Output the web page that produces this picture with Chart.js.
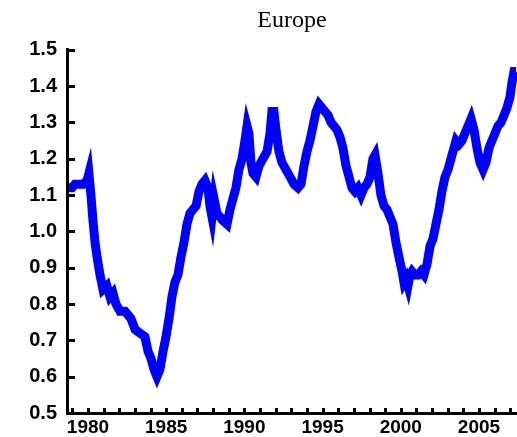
<!DOCTYPE html>
<html>
<head>
<meta charset="utf-8">
<script src="https://cdn.jsdelivr.net/npm/chart.js@4.4.0/dist/chart.umd.min.js"></script>
<style>
  body { margin: 0; background: #fff; }
  #wrap { width: 517px; height: 437px; }
</style>
</head>
<body>
<div id="wrap"><canvas id="europe-chart" width="517" height="437"></canvas></div>
<script>
// values (year, rate)
const years = [
  1978.79, 1978.98, 1979.17, 1979.36, 1979.68, 1979.94, 1980.06, 1980.19, 1980.32, 1980.45,
  1980.58, 1980.77, 1980.96, 1981.21, 1981.41, 1981.60, 1981.79, 1982.05, 1982.37, 1982.56,
  1982.75, 1983.01, 1983.32, 1983.64, 1983.84, 1984.03, 1984.22, 1984.41, 1984.60, 1984.80,
  1984.99, 1985.18, 1985.37, 1985.56, 1985.75, 1985.95, 1986.14, 1986.33, 1986.52, 1986.71,
  1986.91, 1987.10, 1987.29, 1987.48, 1987.67, 1987.80, 1987.93, 1988.06, 1988.25, 1988.44,
  1988.63, 1988.89, 1989.08, 1989.27, 1989.46, 1989.65, 1989.85, 1990.04, 1990.17, 1990.29,
  1990.42, 1990.55, 1990.74, 1990.93, 1991.19, 1991.45, 1991.64, 1991.76, 1991.89, 1992.02,
  1992.21, 1992.40, 1992.66, 1992.92, 1993.17, 1993.43, 1993.62, 1993.81, 1994.00, 1994.19,
  1994.39, 1994.58, 1994.77, 1994.96, 1995.15, 1995.35, 1995.54, 1995.73, 1995.92, 1996.11,
  1996.30, 1996.50, 1996.69, 1996.88, 1997.07, 1997.26, 1997.46, 1997.65, 1997.84, 1998.03,
  1998.22, 1998.35, 1998.54, 1998.73, 1998.93, 1999.12, 1999.31, 1999.50, 1999.69, 1999.88,
  2000.08, 2000.20, 2000.33, 2000.46, 2000.59, 2000.72, 2000.91, 2001.10, 2001.29, 2001.48,
  2001.68, 2001.87, 2002.06, 2002.25, 2002.44, 2002.63, 2002.83, 2003.02, 2003.21, 2003.40,
  2003.53, 2003.72, 2003.91, 2004.10, 2004.30, 2004.49, 2004.68, 2004.87, 2005.06, 2005.26,
  2005.45, 2005.64, 2005.83, 2006.02, 2006.21, 2006.41, 2006.60, 2006.79, 2006.98, 2007.11,
  2007.24, 2007.37
];
const rate = [
  1.12, 1.12, 1.13, 1.13, 1.13, 1.14, 1.16, 1.10, 1.03, 0.97,
  0.93, 0.88, 0.84, 0.85, 0.82, 0.83, 0.80, 0.78, 0.78, 0.77,
  0.76, 0.73, 0.72, 0.71, 0.67, 0.65, 0.62, 0.60, 0.62, 0.67,
  0.71, 0.76, 0.82, 0.86, 0.88, 0.93, 0.97, 1.02, 1.05, 1.06,
  1.07, 1.11, 1.13, 1.14, 1.12, 1.07, 1.04, 1.09, 1.05, 1.04,
  1.03, 1.02, 1.06, 1.09, 1.12, 1.17, 1.20, 1.25, 1.29, 1.27,
  1.19, 1.16, 1.15, 1.18, 1.20, 1.22, 1.27, 1.33, 1.33, 1.28,
  1.22, 1.19, 1.17, 1.15, 1.13, 1.12, 1.13, 1.18, 1.22, 1.25,
  1.29, 1.33, 1.35, 1.34, 1.33, 1.32, 1.30, 1.29, 1.28, 1.26,
  1.23, 1.18, 1.15, 1.12, 1.11, 1.12, 1.10, 1.12, 1.13, 1.15,
  1.20, 1.21, 1.16, 1.10, 1.07, 1.06, 1.04, 1.02, 0.97, 0.93,
  0.89, 0.86, 0.87, 0.85, 0.88, 0.89, 0.88, 0.88, 0.89, 0.88,
  0.91, 0.96, 0.98, 1.02, 1.06, 1.11, 1.15, 1.17, 1.20, 1.23,
  1.25, 1.24, 1.25, 1.27, 1.29, 1.31, 1.28, 1.23, 1.19, 1.17,
  1.19, 1.23, 1.25, 1.27, 1.29, 1.30, 1.32, 1.34, 1.37, 1.41,
  1.44, 1.44
];
const labeledYears = [1980, 1985, 1990, 1995, 2000, 2005];
const yMin = 0.5;
const yMax = 1.5;

const points = years.map((yr, i) => ({ x: yr, y: rate[i] }));

// tick marks point into the plot, as in the original
const innerTicks = {
  id: 'innerTicks',
  afterDraw(chart) {
    const { ctx, chartArea, scales } = chart;
    ctx.save();
    ctx.strokeStyle = '#000';
    ctx.lineWidth = 3;
    ctx.beginPath();
    scales.y.ticks.forEach(t => {
      const py = Math.round(scales.y.getPixelForValue(t.value)) + 0.5;
      ctx.moveTo(chartArea.left, py);
      ctx.lineTo(chartArea.left + 8, py);
    });
    scales.x.ticks.forEach(t => {
      if (!Number.isInteger(t.value)) return;
      const px = Math.round(scales.x.getPixelForValue(t.value)) + 0.5;
      ctx.moveTo(px, chartArea.bottom);
      ctx.lineTo(px, chartArea.bottom - 5);
    });
    ctx.stroke();
    ctx.restore();
  }
};

new Chart(document.getElementById('europe-chart').getContext('2d'), {
  type: 'line',
  data: {
    datasets: [{
      data: points,
      borderColor: '#0000ff',
      borderWidth: 9,
      pointRadius: 0,
      tension: 0,
      fill: false
    }]
  },
  options: {
    responsive: false,
    animation: false,
    layout: { padding: 0 },
    plugins: {
      legend: { display: false },
      tooltip: { enabled: false },
      title: {
        display: true,
        text: 'Europe',
        fullSize: false,
        color: '#000',
        font: { family: 'Liberation Serif', size: 24, weight: 'normal' },
        padding: { top: 6, bottom: 15 }
      }
    },
    scales: {
      x: {
        type: 'linear',
        min: 1978.66,
        max: 2007.43,
        grid: { display: false, drawTicks: false, tickLength: 0 },
        border: { display: true, color: '#000', width: 3 },
        afterFit: scale => { scale.height = 24; },
        ticks: {
          stepSize: 1,
          autoSkip: false,
          includeBounds: false,
          maxRotation: 0,
          padding: 3,
          color: '#000',
          font: { family: 'Liberation Sans', size: 19, weight: 'bold' },
          callback: v => labeledYears.includes(v) ? String(v) : ''
        }
      },
      y: {
        min: yMin,
        max: yMax,
        grid: { display: false, drawTicks: false, tickLength: 0 },
        border: { display: true, color: '#000', width: 3 },
        afterFit: scale => { scale.width = 67; },
        ticks: {
          stepSize: 0.1,
          padding: 10,
          color: '#000',
          font: { family: 'Liberation Sans', size: 20, weight: 'bold' },
          callback: v => v.toFixed(1)
        }
      }
    }
  },
  plugins: [innerTicks]
});
</script>
</body>
</html>
